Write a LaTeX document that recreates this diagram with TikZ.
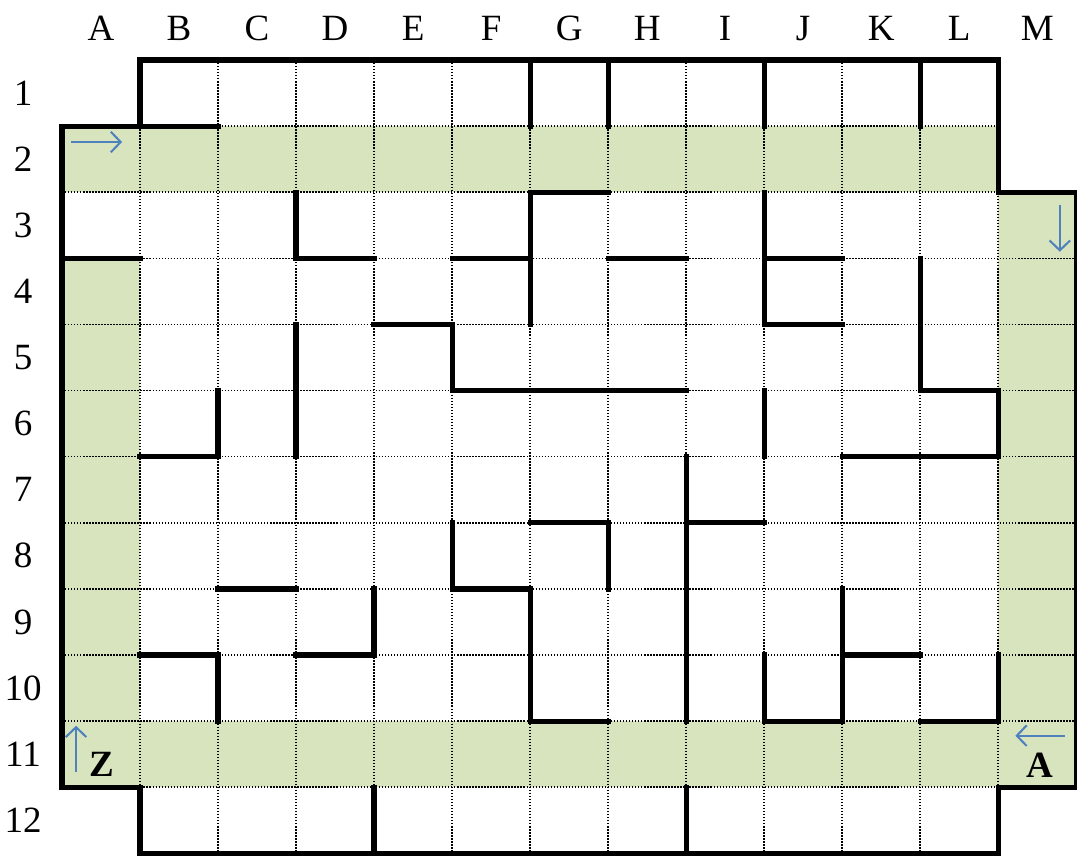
\documentclass[tikz,border=0pt]{standalone}
\usepackage{fontspec}
\setmainfont{Liberation Serif}
\usetikzlibrary{arrows.meta}
\definecolor{mazegreen}{HTML}{D7E4BD}
\definecolor{arrowblue}{HTML}{4F81BD}

\begin{document}
\begin{tikzpicture}[
    x=1cm, y=-0.8474cm,
    corridor/.style={fill=mazegreen, draw=none},
    gridline/.style={line width=0.55pt, dash pattern=on 0.5pt off 0.6pt},
    wall/.style={line width=1.9pt, line cap=rect, line join=miter},
    arrow/.style={arrowblue, line width=0.75pt, -{Straight Barb[length=3.6pt, width=7.5pt]}},
    header/.style={font=\fontsize{13.5}{15}\selectfont},
    tag/.style={font=\fontsize{13.5}{15}\selectfont\bfseries}
  ]
    \useasboundingbox (-0.795,-0.908) rectangle (13.01,12.04);

    % green route
    \fill[corridor] (0,1) rectangle (12,2);
    \fill[corridor] (12,2) rectangle (13,11);
    \fill[corridor] (0,10) rectangle (13,11);
    \fill[corridor] (0,3) rectangle (1,10);

    % dotted cells
    \begin{scope}
      \clip (1,0) -- (12,0) -- (12,2) -- (13,2) -- (13,11) -- (12,11) -- (12,12)
        -- (1,12) -- (1,11) -- (0,11) -- (0,1) -- (1,1) -- cycle;
      \foreach \i in {0,...,13} \draw[gridline] (\i,0) -- (\i,12);
      \foreach \j in {0,...,12} \draw[gridline] (0,\j) -- (13,\j);
    \end{scope}

    % outer border
    \draw[wall] (1,0) -- (12,0) -- (12,2) -- (13,2) -- (13,11) -- (12,11) -- (12,12)
      -- (1,12) -- (1,11) -- (0,11) -- (0,1) -- (1,1) -- cycle;

    % inner walls
    \draw[wall] (1,1) -- (2,1);
    \draw[wall] (6,0) -- (6,1);
    \draw[wall] (7,0) -- (7,1);
    \draw[wall] (9,0) -- (9,1);
    \draw[wall] (11,0) -- (11,1);
    \draw[wall] (0,3) -- (1,3);
    \draw[wall] (3,2) -- (3,3) -- (4,3);
    \draw[wall] (5,3) -- (6,3);
    \draw[wall] (7,2) -- (6,2) -- (6,4);
    \draw[wall] (7,3) -- (8,3);
    \draw[wall] (9,3) -- (10,3);
    \draw[wall] (9,2) -- (9,4) -- (10,4);
    \draw[wall] (11,3) -- (11,5) -- (12,5) -- (12,6) -- (10,6);
    \draw[wall] (4,4) -- (5,4) -- (5,5) -- (8,5);
    \draw[wall] (3,4) -- (3,6);
    \draw[wall] (2,5) -- (2,6) -- (1,6);
    \draw[wall] (9,5) -- (9,6);
    \draw[wall] (8,6) -- (8,10);
    \draw[wall] (8,7) -- (9,7);
    \draw[wall] (6,7) -- (7,7) -- (7,8);
    \draw[wall] (5,7) -- (5,8) -- (6,8) -- (6,10) -- (7,10);
    \draw[wall] (2,8) -- (3,8);
    \draw[wall] (4,8) -- (4,9) -- (3,9);
    \draw[wall] (1,9) -- (2,9) -- (2,10);
    \draw[wall] (10,8) -- (10,10) -- (9,10) -- (9,9);
    \draw[wall] (10,9) -- (11,9);
    \draw[wall] (11,10) -- (12,10) -- (12,9);
    \draw[wall] (4,11) -- (4,12);
    \draw[wall] (8,11) -- (8,12);

    % headers
    \foreach \c [count=\i from 0] in {A,B,C,D,E,F,G,H,I,J,K,L,M}
      \node[header] (col-\c) at (\i+0.5,-0.48) {\c};
    \foreach \r in {1,...,12}
      \node[header] (row-\r) at (-0.5,\r-0.5) {\r};

    % start and end
    \draw[arrow] (0.12,1.24) -- (0.77,1.24);
    \draw[arrow] (12.79,2.19) -- (12.79,2.90);
    \draw[arrow] (12.85,10.22) -- (12.22,10.22);
    \draw[arrow] (0.18,10.77) -- (0.18,10.07);
    \node[tag] (start) at (12.54,10.67) {A};
    \node[tag] (finish) at (0.51,10.65) {Z};
  \end{tikzpicture}
\end{document}
